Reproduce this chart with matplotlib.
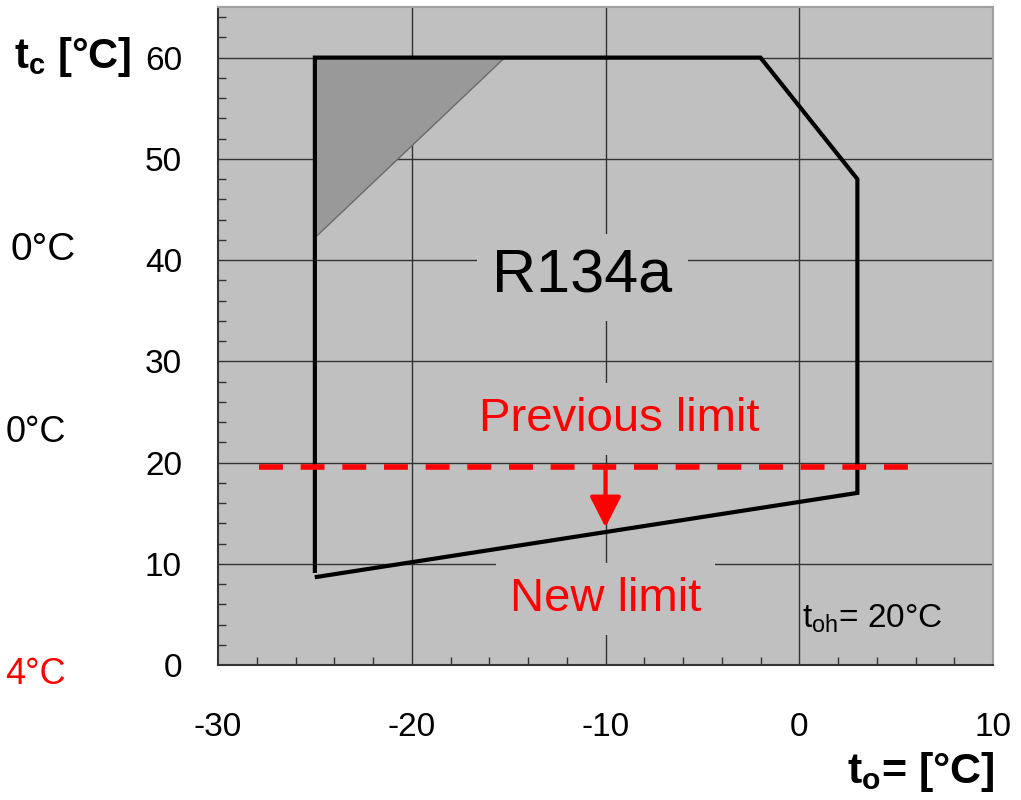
import numpy as np
import matplotlib
matplotlib.use("Agg")
import matplotlib.pyplot as plt
from matplotlib.ticker import MultipleLocator

plt.rcParams["font.family"] = ["Liberation Sans", "DejaVu Sans"]
plt.rcParams["mathtext.fontset"] = "custom"
plt.rcParams["mathtext.rm"] = "Liberation Sans"
plt.rcParams["mathtext.it"] = "Liberation Sans"
plt.rcParams["mathtext.bf"] = "Liberation Sans:bold"
plt.rcParams["axes.unicode_minus"] = False

# -------------------------------------------------------------------
# Envelope data (evaporating temp t_o vs condensing temp t_c)
# -------------------------------------------------------------------
env_to = [-24.9, 3.0, 3.0, -2.0, -25.0, -25.0]
env_tc = [8.7, 17.0, 48.0, 60.0, 60.0, 9.3]

# shaded corner
tri_to = [-25.0, -15.2, -25.0]
tri_tc = [60.0, 60.0, 42.2]

# previous limit (dashed) and new limit arrow
prev_to = [-27.9, 5.8]
prev_tc = [19.6, 19.6]
arrow_to = -10.0
arrow_from = 19.6
arrow_to_tc = 13.6

xticks = [-30, -20, -10, 0, 10]
yticks = [0, 10, 20, 30, 40, 50, 60]

# -------------------------------------------------------------------
# Figure
# -------------------------------------------------------------------
fig = plt.figure(figsize=(10.21, 8.0), dpi=100)
ax = fig.add_axes([218 / 1021, 135 / 800, 775 / 1021, 658 / 800])
ax.set_facecolor("#c0c0c0")
ax.set_xlim(-30, 10)
ax.set_ylim(0, 65)

ax.set_xticks(xticks)
ax.set_yticks(yticks)
ax.xaxis.set_minor_locator(MultipleLocator(2))
ax.yaxis.set_minor_locator(MultipleLocator(2))
ax.tick_params(which="major", length=0, labelsize=24)
ax.tick_params(axis="x", which="major", pad=34)
ax.tick_params(axis="y", which="major", pad=26)
ax.tick_params(which="minor", direction="in", length=6, width=1, color="#333333")

# grid lines only at the major values inside the plot
for gx in [-20, -10, 0]:
    ax.axvline(gx, color="#333333", lw=1, zorder=0.5)
for gy in [10, 20, 30, 40, 50, 60]:
    ax.axhline(gy, color="#333333", lw=1, zorder=0.5)

for s in ["left", "bottom"]:
    ax.spines[s].set_color("#333333")
    ax.spines[s].set_linewidth(1.5)
for s in ["top", "right"]:
    ax.spines[s].set_color("#a0a0a0")
    ax.spines[s].set_linewidth(1.5)

ax.fill(tri_to, tri_tc, facecolor="#999999", edgecolor="#6a6a6a", lw=1, zorder=1)
ax.plot(env_to, env_tc, color="black", lw=3, solid_joinstyle="miter", zorder=2)

ax.plot(prev_to, prev_tc, color="red", lw=4, dashes=(4.3, 3.2), zorder=2.5)
ax.annotate("", xy=(arrow_to, arrow_to_tc), xytext=(arrow_to, arrow_from),
            arrowprops=dict(arrowstyle="-|>,head_length=0.47,head_width=0.24",
                            color="red", lw=3, mutation_scale=40,
                            shrinkA=0, shrinkB=0), zorder=2.5)

box = dict(boxstyle="square,pad=0.3", fc="#c0c0c0", ec="none")
ax.text(-11.2, 38.3, "R134a", fontsize=44, ha="center", va="center",
        bbox=dict(boxstyle="square,pad=0.25", fc="#c0c0c0", ec="none"), zorder=1.5)
ax.text(-9.3, 24.3, "Previous limit", fontsize=34, color="red", ha="center", va="center", bbox=box, zorder=1.5)
ax.text(-10.0, 6.5, "New limit", fontsize=34, color="red", ha="center", va="center", bbox=box, zorder=1.5)
ax.text(0.15, 4.6, r"t$_{\mathrm{oh}}$= 20°C", fontsize=24, ha="left", va="center", zorder=3)

# axis labels
fig.text(131 / 1021, 1 - 57 / 800, r"$\mathbf{t_c}$ [°C]", fontsize=30, fontweight="bold", ha="right", va="center")
fig.text(995 / 1021, 1 - 772 / 800, r"$\mathbf{t_o}$= [°C]", fontsize=31, fontweight="bold", ha="right", va="center")

# labels clipped at the left border in the source
fig.text(76 / 1021, 1 - 250 / 800, "0°C", fontsize=28, ha="right", va="center")
fig.text(66 / 1021, 1 - 433 / 800, "0°C", fontsize=26, ha="right", va="center")
fig.text(66 / 1021, 1 - 674 / 800, "4°C", fontsize=26, ha="right", va="center", color="red")

fig.savefig("out.png", dpi=100)
